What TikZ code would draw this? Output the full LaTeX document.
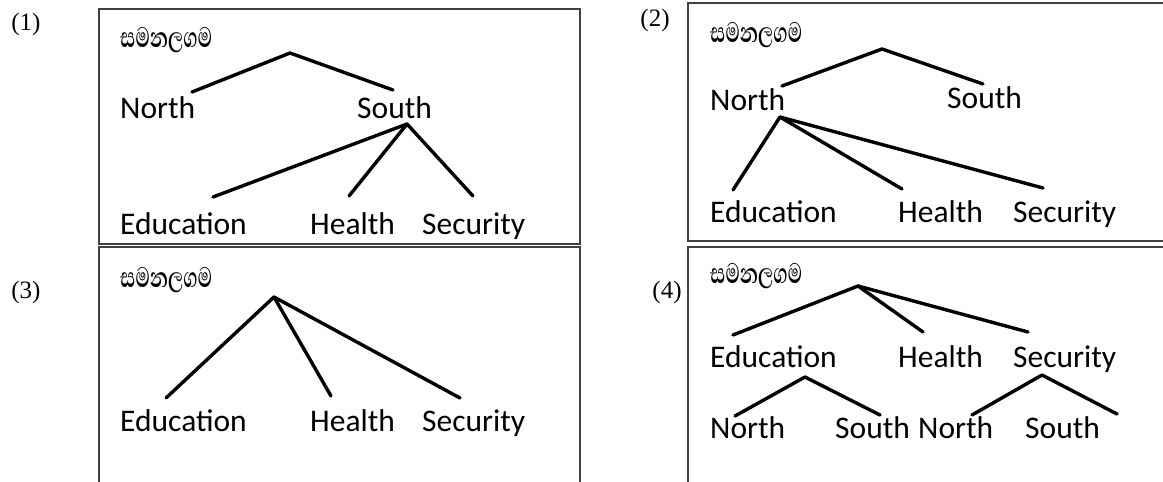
\documentclass[tikz,border=0pt]{standalone}
\usepackage{fontspec}
\setmainfont{Carlito}
\newfontfamily\sinhfont[Script=Sinhala,FakeStretch=0.66]{Abhaya Libre}
\newfontfamily\numfont{Liberation Serif}
\tikzset{
  lbl/.style={anchor=base west,inner sep=0pt,font=\fontsize{31.5}{36}\selectfont},
  ttl/.style={anchor=base west,inner sep=0pt,font=\sinhfont\bfseries\fontsize{36}{40}\selectfont},
  num/.style={inner sep=0pt,font=\numfont\fontsize{25}{28}\selectfont},
  branch/.style={line width=3.4pt,line cap=round,line join=round},
  frame/.style={line width=1.2pt,draw=black!75}
}
\begin{document}
\begin{tikzpicture}[x=1pt,y=-1pt]
\useasboundingbox (0,0) rectangle (1163,482);
% frames
\draw[frame] (99,9) rectangle (580,244);
\draw[frame] (1163,3) -- (688,3) -- (688,241) -- (1163,241);
\draw[frame] (99,482) -- (99,247) -- (580,247) -- (580,482);
\draw[frame] (688,482) -- (688,247) -- (1163,247);
% numbers
\node[num] (q1) at (26,24) {(1)};
\node[num] (q2) at (655,20) {(2)};
\node[num] (q3) at (26,292) {(3)};
\node[num] (q4) at (667,292) {(4)};
% ---- box 1
\node[ttl] (t1) at (120,47) {සමනලගම};
\node[lbl] (n1) at (120,118) {North};
\node[lbl] (s1) at (357,118) {South};
\node[lbl] (e1) at (120,234) {Education};
\node[lbl] (h1) at (310,234) {Health};
\node[lbl] (c1) at (422,234) {Security};
\coordinate (r1) at (290,53);
\coordinate (r1a) at (192,92);
\coordinate (r1b) at (393,90);
\coordinate (s1x) at (407,124);
\coordinate (s1a) at (213,197);
\coordinate (s1b) at (349,196);
\coordinate (s1c) at (473,196);
\draw[branch] (r1a) -- (r1) -- (r1b);
\draw[branch] (s1a) -- (s1x) -- (s1c);
\draw[branch] (s1x) -- (s1b);
% ---- box 2
\node[ttl] (t2) at (710,42) {සමනලගම};
\node[lbl] (n2) at (710,110) {North};
\node[lbl] (s2) at (947,108) {South};
\node[lbl] (e2) at (710,222) {Education};
\node[lbl] (h2) at (898,222) {Health};
\node[lbl] (c2) at (1013,222) {Security};
\coordinate (r2) at (882,49);
\coordinate (r2a) at (782,86);
\coordinate (r2b) at (983,84);
\coordinate (n2x) at (780,117);
\coordinate (n2a) at (733,190);
\coordinate (n2b) at (902,189);
\coordinate (n2c) at (1043,188);
\draw[branch] (r2a) -- (r2) -- (r2b);
\draw[branch] (n2a) -- (n2x) -- (n2c);
\draw[branch] (n2x) -- (n2b);
% ---- box 3
\node[ttl] (t3) at (120,287) {සමනලගම};
\node[lbl] (e3) at (120,431) {Education};
\node[lbl] (h3) at (310,431) {Health};
\node[lbl] (c3) at (422,431) {Security};
\coordinate (r3) at (274,297);
\coordinate (r3a) at (166,398);
\coordinate (r3b) at (331,396);
\coordinate (r3c) at (460,398);
\draw[branch] (r3a) -- (r3) -- (r3c);
\draw[branch] (r3) -- (r3b);
% ---- box 4
\node[ttl] (t4) at (710,283) {සමනලගම};
\node[lbl] (e4) at (710,367) {Education};
\node[lbl] (h4) at (898,367) {Health};
\node[lbl] (c4) at (1013,367) {Security};
\node[lbl] (n4a) at (710,438) {North};
\node[lbl] (s4a) at (835,438) {South};
\node[lbl] (n4b) at (918,438) {North};
\node[lbl] (s4b) at (1025,438) {South};
\coordinate (r4) at (858,286);
\coordinate (r4a) at (733,335);
\coordinate (r4b) at (923,332);
\coordinate (r4c) at (1028,332);
\coordinate (e4x) at (805,377);
\coordinate (e4a) at (735,416);
\coordinate (e4b) at (880,415);
\coordinate (c4x) at (1042,375);
\coordinate (c4a) at (972,415);
\coordinate (c4b) at (1117,414);
\draw[branch] (r4a) -- (r4) -- (r4c);
\draw[branch] (r4) -- (r4b);
\draw[branch] (e4a) -- (e4x) -- (e4b);
\draw[branch] (c4a) -- (c4x) -- (c4b);
\end{tikzpicture}
\end{document}
